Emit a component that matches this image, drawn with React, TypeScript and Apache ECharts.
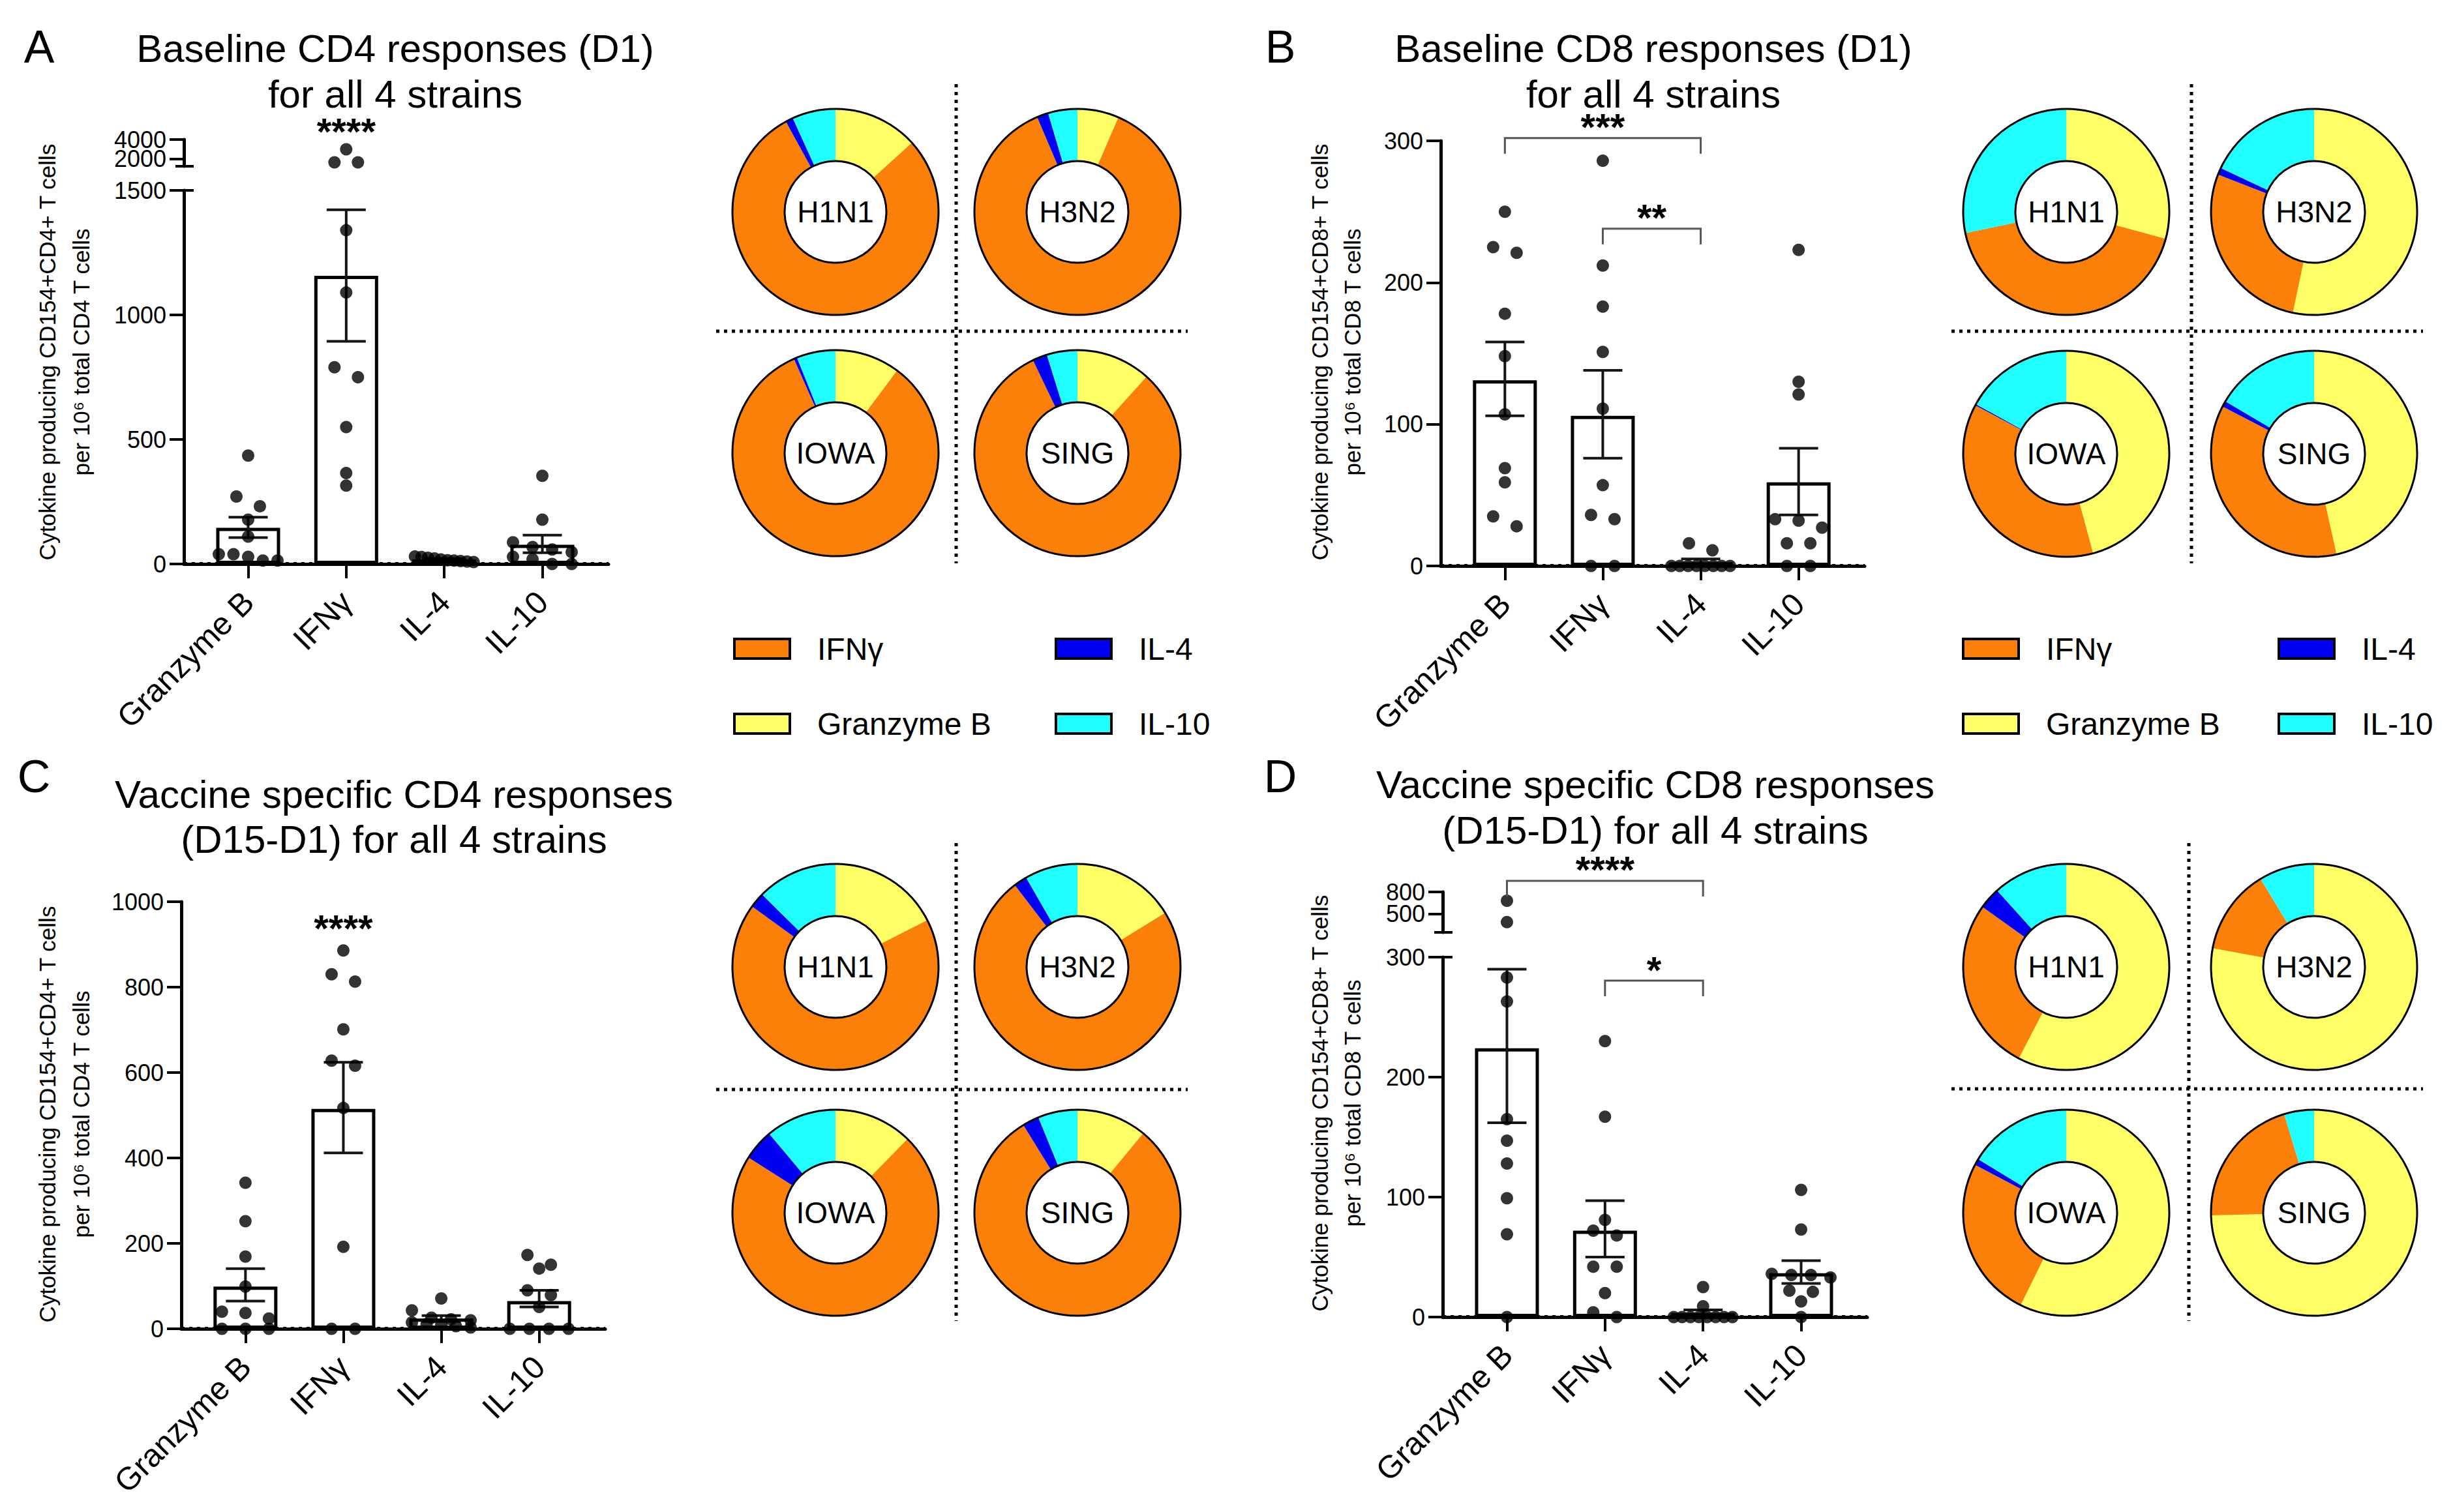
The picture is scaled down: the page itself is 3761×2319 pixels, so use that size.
import React, { useEffect, useRef } from 'react';
import * as echarts from 'echarts';

const W = 3761;
const H = 2319;
const FONT = '"Liberation Sans", Arial, Helvetica, sans-serif';

// ---------- shared categories ----------
const CATEGORIES = ['Granzyme B', 'IFNγ', 'IL-4', 'IL-10'];
const CAT_X = [1, 2, 3, 4];
const STRAINS = ['H1N1', 'H3N2', 'IOWA', 'SING'];
const SLICE_NAMES = ['Granzyme B', 'IFNγ', 'IL-4', 'IL-10'];
const SLICE_COLORS = ['#FFFF66', '#FA800A', '#0000F2', '#20FFFF'];
const LEGEND_ORDER = [1, 2, 0, 3]; // IFNγ, IL-4 / Granzyme B, IL-10

// ---------- Panel A: baseline CD4 ----------
const A_GZB = [435, 271, 232, 178, 110, 39, 39, 29, 14, 14];
const A_IFNG = [3000, 1650, 1650, 1340, 1090, 790, 750, 550, 365, 315];
const A_IL4 = [30, 28, 25, 22, 18, 15, 14, 12, 10, 8];
const A_IL10 = [354, 178, 87, 68, 58, 48, 29, 19, 0, 0];
const A_MEAN = [145, 1157, 18, 77];
const A_SEM_LO = [106, 894, 14, 45];
const A_SEM_HI = [188, 1422, 22, 116];
const A_SIG = [[2, 2, 1746]];
const A_SIG_TEXT = ['****'];
const A_PIE_H1N1 = [13.3, 78.7, 1.2, 6.8];
const A_PIE_H3N2 = [6.5, 87.1, 1.8, 4.6];
const A_PIE_IOWA = [10.2, 83.2, 0.5, 6.1];
const A_PIE_SING = [11.7, 81.2, 2.3, 4.8];

// ---------- Panel B: baseline CD8 ----------
const B_GZB = [250, 225, 221, 178, 148, 107, 69, 59, 35, 28];
const B_IFNG = [286, 212, 183, 151, 111, 57, 36, 33, 0, 0];
const B_IL4 = [16, 11, 0, 0, 0, 0, 0, 0, 0, 0];
const B_IL10 = [223, 130, 121, 33, 32, 27, 16, 16, 0, 0];
const B_MEAN = [131, 106, 2.7, 59];
const B_SEM_LO = [106, 76, 0.5, 36];
const B_SEM_HI = [158, 138, 5, 83];
const B_SIG = [[1, 3, 302], [2, 3, 238]];
const B_SIG_TEXT = ['***', '**'];
const B_PIE_H1N1 = [29.2, 42.5, 0, 28.3];
const B_PIE_H3N2 = [53.3, 27.6, 1.1, 18.0];
const B_PIE_IOWA = [45.8, 37.0, 0.2, 17.0];
const B_PIE_SING = [46.5, 36.1, 0.9, 16.5];

// ---------- Panel C: vaccine specific CD4 ----------
const C_GZB = [342, 252, 169, 99, 40, 37, 24, 0, 0, 0];
const C_IFNG = [886, 830, 813, 701, 628, 616, 517, 192, 0, 0];
const C_IL4 = [71, 43, 26, 22, 20, 15, 11, 9, 6, 3];
const C_IL10 = [173, 150, 141, 90, 79, 51, 0, 0, 0, 0];
const C_MEAN = [99, 515, 24, 65];
const C_SEM_LO = [65, 412, 17, 51];
const C_SEM_HI = [141, 624, 31, 90];
const C_SIG = [[2, 2, 942]];
const C_SIG_TEXT = ['****'];
const C_PIE_H1N1 = [17.5, 67.5, 2.4, 12.6];
const C_PIE_H3N2 = [16.2, 73.4, 2.1, 8.3];
const C_PIE_IOWA = [12.3, 71.7, 4.9, 11.1];
const C_PIE_SING = [11.0, 80.2, 2.6, 6.2];

// ---------- Panel D: vaccine specific CD8 ----------
const D_GZB = [680, 390, 283, 263, 165, 147, 128, 99, 69, 0];
const D_IFNG = [230, 167, 81, 72, 68, 42, 42, 20, 4, 0];
const D_IL4 = [25, 9, 0, 0, 0, 0, 0, 0, 0, 0];
const D_IL10 = [106, 73, 36, 35, 35, 33, 22, 21, 13, 0];
const D_MEAN = [224, 72, 3.4, 36.6];
const D_SEM_LO = [162, 50, 0.5, 28];
const D_SEM_HI = [290, 97, 6, 47];
const D_SIG = [[1, 3, 363.6], [2, 3, 280.4]];
const D_SIG_TEXT = ['****', '*'];
const D_PIE_H1N1 = [57.6, 27.3, 3.4, 11.7];
const D_PIE_H3N2 = [77.9, 13.4, 0, 8.7];
const D_PIE_IOWA = [57.3, 25.4, 1.0, 16.3];
const D_PIE_SING = [74.6, 20.7, 0, 4.7];

// ---------- layout (positions / styles, not data) ----------
const XMIN = 0.345;
const XMAX = 4.675;
const BIN_PX = 16;
const SPACING_PX = 36;
const MAX_SPREAD_PX = 90;

const PANELS: any[] = [
  {
    letter: 'A', letterPos: [60, 72],
    title: ['Baseline CD4 responses (D1)', 'for all 4 strains'], titlePos: [606, 74, 144],
    yName: ['Cytokine producing CD154+CD4+ T cells', 'per 10⁶ total CD4 T cells'],
    yNamePos: [[72, 540], [124, 540]],
    values: [A_GZB, A_IFNG, A_IL4, A_IL10], mean: A_MEAN, lo: A_SEM_LO, hi: A_SEM_HI,
    sig: A_SIG, sigText: A_SIG_TEXT,
    pies: [A_PIE_H1N1, A_PIE_H3N2, A_PIE_IOWA, A_PIE_SING],
    grid: { left: 282, top: 292, width: 651, height: 573 }, yMax: 1500, yInterval: 500,
    seg: { top: 214, height: 41, min: 1250, max: 4000, ticks: [2000, 4000] },
    pie: { x: 1281, y: 325, dx: 371, dy: 370 },
    vline: { x: 1466, y1: 129, y2: 864 }, hline: { y: 508, x1: 1098, x2: 1821 },
    legend: { x1: 1126, x2: 1619, y1: 980, y2: 1095 },
  },
  {
    letter: 'B', letterPos: [1963, 72],
    title: ['Baseline CD8 responses (D1)', 'for all 4 strains'], titlePos: [2535, 74, 144],
    yName: ['Cytokine producing CD154+CD8+ T cells', 'per 10⁶ total CD8 T cells'],
    yNamePos: [[2023, 540], [2073, 540]],
    values: [B_GZB, B_IFNG, B_IL4, B_IL10], mean: B_MEAN, lo: B_SEM_LO, hi: B_SEM_HI,
    sig: B_SIG, sigText: B_SIG_TEXT,
    pies: [B_PIE_H1N1, B_PIE_H3N2, B_PIE_IOWA, B_PIE_SING],
    grid: { left: 2209, top: 216, width: 650, height: 652 }, yMax: 300, yInterval: 100,
    seg: null,
    pie: { x: 3168, y: 325, dx: 380, dy: 371 },
    vline: { x: 3360, y1: 129, y2: 864 }, hline: { y: 508, x1: 2992, x2: 3715 },
    legend: { x1: 3010, x2: 3494, y1: 980, y2: 1095 },
  },
  {
    letter: 'C', letterPos: [52, 1191],
    title: ['Vaccine specific CD4 responses', '(D15-D1) for all 4 strains'], titlePos: [604, 1218, 1287],
    yName: ['Cytokine producing CD154+CD4+ T cells', 'per 10⁶ total CD4 T cells'],
    yNamePos: [[72, 1709], [124, 1709]],
    values: [C_GZB, C_IFNG, C_IL4, C_IL10], mean: C_MEAN, lo: C_SEM_LO, hi: C_SEM_HI,
    sig: C_SIG, sigText: C_SIG_TEXT,
    pies: [C_PIE_H1N1, C_PIE_H3N2, C_PIE_IOWA, C_PIE_SING],
    grid: { left: 278, top: 1383, width: 650, height: 655 }, yMax: 1000, yInterval: 200,
    seg: null,
    pie: { x: 1281, y: 1483, dx: 371, dy: 377 },
    vline: { x: 1466, y1: 1293, y2: 2026 }, hline: { y: 1671, x1: 1098, x2: 1821 },
    legend: null,
  },
  {
    letter: 'D', letterPos: [1963, 1191],
    title: ['Vaccine specific CD8 responses', '(D15-D1) for all 4 strains'], titlePos: [2538, 1203, 1273],
    yName: ['Cytokine producing CD154+CD8+ T cells', 'per 10⁶ total CD8 T cells'],
    yNamePos: [[2023, 1692], [2073, 1692]],
    values: [D_GZB, D_IFNG, D_IL4, D_IL10], mean: D_MEAN, lo: D_SEM_LO, hi: D_SEM_HI,
    sig: D_SIG, sigText: D_SIG_TEXT,
    pies: [D_PIE_H1N1, D_PIE_H3N2, D_PIE_IOWA, D_PIE_SING],
    grid: { left: 2212, top: 1468, width: 651, height: 552 }, yMax: 300, yInterval: 100,
    seg: { top: 1368, height: 62, min: 250, max: 800, ticks: [500, 800] },
    pie: { x: 3168, y: 1483, dx: 380, dy: 377 },
    vline: { x: 3356, y1: 1293, y2: 2026 }, hline: { y: 1670, x1: 2992, x2: 3715 },
    legend: null,
  },
];

// beeswarm: bin points by pixel height and spread symmetrically
function swarmOffsets(values: number[], yPx: (v: number) => number, pxPerX: number): number[] {
  const idx = values.map((_, i) => i).sort((a, b) => values[b] - values[a]);
  const off = new Array(values.length).fill(0);
  let i = 0;
  while (i < idx.length) {
    const startPx = yPx(values[idx[i]]);
    let j = i;
    while (j + 1 < idx.length && Math.abs(yPx(values[idx[j + 1]]) - startPx) <= BIN_PX) j++;
    const n = j - i + 1;
    const s = n > 1 ? Math.min(SPACING_PX, MAX_SPREAD_PX / (n - 1)) : 0;
    for (let k = 0; k < n; k++) off[idx[i + k]] = ((k - (n - 1) / 2) * s) / pxPerX;
    i = j + 1;
  }
  return off;
}

const blackLine = { color: '#000', width: 5 };
const plainNum = (v: number) => String(v);

function buildOption() {
  const grid: any[] = [];
  const xAxis: any[] = [];
  const yAxis: any[] = [];
  const series: any[] = [];
  const graphic: any[] = [];

  PANELS.forEach((p) => {
    const G = p.grid;
    const gi = grid.length;
    grid.push({ left: G.left, top: G.top, width: G.width, height: G.height, containLabel: false, outerBoundsMode: 'none' });
    const xi = xAxis.length;
    xAxis.push({
      type: 'value', gridIndex: gi, min: XMIN, max: XMAX,
      axisLine: { show: true, onZero: false, lineStyle: blackLine },
      axisTick: { show: true, customValues: CAT_X, length: 22, lineStyle: { color: '#000', width: 4 } },
      axisLabel: {
        show: true, customValues: CAT_X, rotate: 45, margin: 50, fontSize: 49, color: '#000', fontFamily: FONT,
        showMinLabel: true, showMaxLabel: true, hideOverlap: false,
        formatter: (v: number) => CATEGORIES[Math.round(v) - 1] ?? '',
      },
      splitLine: { show: false },
    });
    const yi = yAxis.length;
    yAxis.push({
      type: 'value', gridIndex: gi, min: 0, max: p.yMax, interval: p.yInterval,
      axisLine: { show: true, lineStyle: blackLine },
      axisTick: { show: true, length: 22, lineStyle: { color: '#000', width: 4 } },
      axisLabel: {
        fontSize: 36, margin: 27, color: '#000', fontFamily: FONT, formatter: plainNum,
        showMinLabel: true, showMaxLabel: true, hideOverlap: false,
      },
      splitLine: { show: false },
    });

    let txi = -1;
    let tyi = -1;
    const S = p.seg;
    if (S) {
      const ti = grid.length;
      grid.push({ left: G.left, top: S.top, width: G.width, height: S.height, containLabel: false, outerBoundsMode: 'none' });
      txi = xAxis.length;
      xAxis.push({ type: 'value', gridIndex: ti, min: XMIN, max: XMAX, show: false });
      // one axis per tick label so that neither label gets auto-hidden
      S.ticks.forEach((tv: number, n: number) => {
        if (n === 0) tyi = yAxis.length;
        yAxis.push({
          type: 'value', gridIndex: ti, min: S.min, max: S.max, position: 'left', offset: 0,
          axisLine: { show: n === 0, lineStyle: blackLine },
          axisTick: { show: true, customValues: [tv], length: 22, lineStyle: { color: '#000', width: 4 } },
          axisLabel: {
            customValues: [tv], fontSize: 36, margin: 27, color: '#000', fontFamily: FONT, formatter: plainNum,
            showMinLabel: true, showMaxLabel: true, hideOverlap: false,
          },
          splitLine: { show: false },
        });
      });
      // axis break marks
      const segBottom = S.top + S.height;
      graphic.push({ type: 'line', shape: { x1: G.left - 13, y1: segBottom, x2: G.left + 15, y2: segBottom }, style: { stroke: '#000', lineWidth: 4 } });
      graphic.push({ type: 'line', shape: { x1: G.left, y1: G.top, x2: G.left + 15, y2: G.top }, style: { stroke: '#000', lineWidth: 4 } });
    }

    const pxPerX = G.width / (XMAX - XMIN);
    const yPx = (v: number) => {
      if (!S || v <= p.yMax) return G.top + G.height - (v * G.height) / p.yMax;
      return S.top + S.height - ((v - S.min) * S.height) / (S.max - S.min);
    };

    // bars
    series.push({
      type: 'bar', xAxisIndex: xi, yAxisIndex: yi, silent: true, z: 2, barWidth: 98,
      data: p.mean.map((m: number, i: number) => [CAT_X[i], m]),
      itemStyle: { color: '#fff', borderColor: '#000', borderWidth: 5 },
      markLine: {
        silent: true, symbol: ['none', 'none'], label: { show: false },
        lineStyle: { color: '#000', width: 6, type: [5, 7] },
        data: [{ yAxis: 0 }],
      },
    });

    // error bars (SEM)
    series.push({
      type: 'custom', xAxisIndex: xi, yAxisIndex: yi, silent: true, z: 3,
      encode: { x: 0, y: [1, 2] },
      data: p.mean.map((_: number, i: number) => [CAT_X[i], p.lo[i], p.hi[i]]),
      renderItem: (params: any, api: any) => {
        const x = api.value(0);
        const a = api.coord([x, api.value(1)]);
        const b = api.coord([x, api.value(2)]);
        const hw = 30;
        const st = { stroke: '#151515', lineWidth: 4 };
        return {
          type: 'group',
          children: [
            { type: 'line', shape: { x1: a[0], y1: a[1], x2: b[0], y2: b[1] }, style: st },
            { type: 'line', shape: { x1: a[0] - hw, y1: a[1], x2: a[0] + hw, y2: a[1] }, style: st },
            { type: 'line', shape: { x1: b[0] - hw, y1: b[1], x2: b[0] + hw, y2: b[1] }, style: st },
          ],
        };
      },
    });

    // dots
    const mainPts: number[][] = [];
    const topPts: number[][] = [];
    p.values.forEach((vals: number[], ci: number) => {
      const off = swarmOffsets(vals, yPx, pxPerX);
      vals.forEach((v, k) => {
        const pt = [CAT_X[ci] + off[k], v];
        if (S && v > p.yMax) topPts.push(pt);
        else mainPts.push(pt);
      });
    });
    const dotStyle = { type: 'scatter', symbolSize: 19, itemStyle: { color: '#000' }, clip: false, silent: true, z: 5 };
    series.push({ ...dotStyle, xAxisIndex: xi, yAxisIndex: yi, data: mainPts });
    if (S) series.push({ ...dotStyle, xAxisIndex: txi, yAxisIndex: tyi, data: topPts });

    // significance annotations
    const sigText: string[] = p.sigText;
    series.push({
      type: 'custom', xAxisIndex: xi, yAxisIndex: yi, silent: true, z: 6,
      encode: { x: [0, 1], y: 2 },
      data: p.sig,
      renderItem: (params: any, api: any) => {
        const x1 = api.value(0);
        const x2 = api.value(1);
        const yv = api.value(2);
        const p1 = api.coord([x1, yv]);
        const p2 = api.coord([x2, yv]);
        const bracket = x1 !== x2;
        const drop = 24;
        const children: any[] = [];
        if (bracket) {
          children.push({
            type: 'polyline',
            shape: { points: [[p1[0], p1[1] + drop], [p1[0], p1[1]], [p2[0], p2[1]], [p2[0], p2[1] + drop]] },
            style: { stroke: '#555', lineWidth: 3, fill: 'none' },
          });
        }
        children.push({
          type: 'text', x: (p1[0] + p2[0]) / 2, y: bracket ? p1[1] - 17 : p1[1] + 3,
          style: {
            text: sigText[params.dataIndex], fontSize: 58, lineHeight: 30, fontWeight: 'bold', fontFamily: FONT,
            fill: '#000', textAlign: 'center', textVerticalAlign: 'middle',
          },
        });
        return { type: 'group', children };
      },
    });

    // donut charts
    p.pies.forEach((vals: number[], k: number) => {
      const cx = p.pie.x + (k % 2) * p.pie.dx;
      const cy = p.pie.y + Math.floor(k / 2) * p.pie.dy;
      series.push({
        type: 'pie', center: [cx, cy], radius: [78, 158], startAngle: 90, clockwise: true,
        silent: true, z: 2, label: { show: false }, labelLine: { show: false },
        emphasis: { disabled: true },
        itemStyle: { borderWidth: 0 },
        data: vals.map((v, j) => ({ value: v, name: SLICE_NAMES[j], itemStyle: { color: SLICE_COLORS[j] } })),
      });
      series.push({
        type: 'pie', center: [cx, cy], radius: [78, 158], silent: true, z: 3,
        emphasis: { disabled: true },
        data: [{ value: 1, name: STRAINS[k] }],
        itemStyle: { color: 'rgba(0,0,0,0)', borderColor: '#000', borderWidth: 3 },
        label: { show: true, position: 'center', formatter: '{b}', fontSize: 46, color: '#000', fontFamily: FONT },
        labelLine: { show: false },
      });
    });

    // dividers between donuts
    const dotted = { stroke: '#000', lineWidth: 5, lineDash: [5, 7] };
    graphic.push({ type: 'line', shape: { x1: p.vline.x, y1: p.vline.y1, x2: p.vline.x, y2: p.vline.y2 }, style: dotted });
    graphic.push({ type: 'line', shape: { x1: p.hline.x1, y1: p.hline.y, x2: p.hline.x2, y2: p.hline.y }, style: dotted });

    // legend
    if (p.legend) {
      LEGEND_ORDER.forEach((si, n) => {
        const lx = n % 2 === 0 ? p.legend.x1 : p.legend.x2;
        const ly = n < 2 ? p.legend.y1 : p.legend.y2;
        graphic.push({ type: 'rect', shape: { x: lx, y: ly, width: 85, height: 30 }, style: { fill: SLICE_COLORS[si], stroke: '#000', lineWidth: 4 } });
        graphic.push({
          type: 'text', x: lx + 127, y: ly + 15,
          style: { text: SLICE_NAMES[si], fontSize: 48, fontFamily: FONT, fill: '#000', textAlign: 'left', textVerticalAlign: 'middle' },
        });
      });
    }

    // panel letter, title, y-axis name
    graphic.push({
      type: 'text', x: p.letterPos[0], y: p.letterPos[1],
      style: { text: p.letter, fontSize: 70, fontFamily: FONT, fill: '#000', textAlign: 'center', textVerticalAlign: 'middle' },
    });
    p.title.forEach((t: string, n: number) => {
      graphic.push({
        type: 'text', x: p.titlePos[0], y: p.titlePos[1 + n],
        style: { text: t, fontSize: 60, lineHeight: 56, fontFamily: FONT, fill: '#000', textAlign: 'center', textVerticalAlign: 'middle' },
      });
    });
    p.yName.forEach((t: string, n: number) => {
      graphic.push({
        type: 'text', x: p.yNamePos[n][0], y: p.yNamePos[n][1], rotation: Math.PI / 2,
        style: { text: t, fontSize: 35, fontFamily: FONT, fill: '#000', textAlign: 'center', textVerticalAlign: 'middle' },
      });
    });
  });

  return {
    animation: false,
    backgroundColor: '#fff',
    textStyle: { fontFamily: FONT },
    grid, xAxis, yAxis, series, graphic,
  };
}

export default function App() {
  const ref = useRef<HTMLDivElement>(null);
  useEffect(() => {
    document.body.style.margin = '0';
    const chart = echarts.init(ref.current as HTMLDivElement, undefined, { renderer: 'svg', width: W, height: H });
    chart.setOption(buildOption() as any);
    return () => chart.dispose();
  }, []);
  return <div ref={ref} style={{ width: W, height: H, position: 'absolute', left: 0, top: 0, background: '#fff' }} />;
}
